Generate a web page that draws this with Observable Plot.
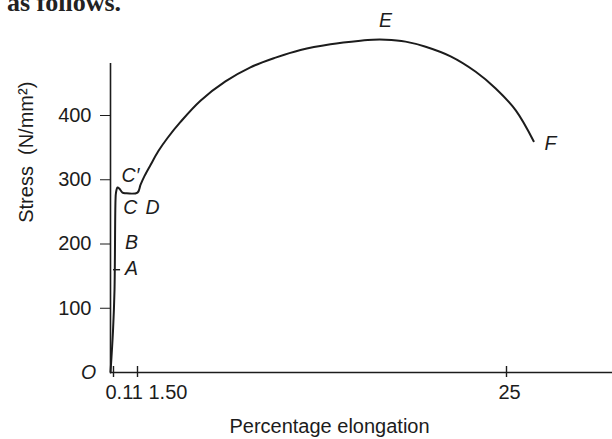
<!DOCTYPE html>
<html>
<head>
<meta charset="utf-8">
<script src="https://cdn.jsdelivr.net/npm/d3@7"></script>
<script src="https://cdn.jsdelivr.net/npm/@observablehq/plot@0.6"></script>
<style>
  html, body { margin: 0; padding: 0; background: #fff; }
  #wrap { position: relative; width: 612px; height: 439px; overflow: hidden; }
  #pretext { position: absolute; left: 7px; top: -10px; font-family: "Liberation Serif", serif; font-weight: bold; font-size: 26px; line-height: 26px; color: #222; white-space: nowrap; }
  #chart { position: absolute; left: 0; top: 0; }
</style>
</head>
<body>
<div id="wrap">
  <div id="chart"></div>
  <div id="pretext">as follows.</div>
</div>
<script>
// Stress–strain curve (percentage elongation vs stress, N/mm²)
const elongation = [0, 0.092, 0.168, 0.226, 0.255, 0.342, 0.457, 0.631, 0.805, 1.5, 1.69, 1.95, 2.33, 2.84, 3.41, 4.24, 5.51, 7.10, 8.69, 10.29, 11.88, 13.79, 15.7, 16.5, 17.3, 18.57, 19.85, 21.44, 23.04, 24.31, 25.59, 26.73];
const stress     = [0, 65, 128, 268, 280, 288, 286, 280, 279, 280, 292, 306, 323, 345, 365, 390, 423, 453, 475, 490, 502, 511, 516.5, 518, 518, 515, 507, 492, 468, 442, 408, 360];

const xTickValues = [0.11, 1.5, 25];
const xTickLabels = ["0.11", "1.50", "25"];
const yTickValues = [100, 200, 300, 400];

const pointNames = ["O", "A", "B", "C", "D", "C\u2032", "E", "F"];
const pointX     = [0, 1.15, 1.15, 1.09, 2.46, 1.09, 17.3, 27.8];
const pointY     = [0, 162, 202, 257, 257, 307, 548, 356];

const markA = { y: 160, x1: 0.11, x2: 0.52 };
const xMax = 31.75;   // right end of the elongation axis
const yAxisTop = 481; // top end of the stress axis
const yTitleAt = 233; // stress value at the middle of the y title

const curve = elongation.map((x, i) => ({ x, y: stress[i] }));
const points = pointNames.map((name, i) => ({ name, x: pointX[i], y: pointY[i] }));
const xTicks = xTickValues.map((x, i) => ({ x, label: xTickLabels[i] }));

const labelStyle = { "0.11": { anchor: "start", dx: -8 }, "1.50": { anchor: "start", dx: 11 }, "25": { anchor: "middle", dx: 3 } };
const ink = "#1c1c1c";

const chart = Plot.plot({
  width: 612,
  height: 439,
  marginLeft: 110,
  marginRight: 0,
  marginTop: 0,
  marginBottom: 67,
  style: { fontFamily: "'Liberation Sans', Arial, sans-serif", color: ink, background: "transparent", overflow: "visible" },
  x: { type: "linear", axis: null, domain: [0, 0.11, 1.5, 25, xMax], range: [110, 113, 137, 506, 612] },
  y: { domain: [0, 400], range: [372, 115] },
  marks: [
    // axis lines
    Plot.ruleX([0], { y1: 0, y2: yAxisTop, stroke: ink, strokeWidth: 1.6 }),
    Plot.ruleY([0], { x1: 0, x2: xMax, stroke: ink, strokeWidth: 1.6 }),
    // y ticks + labels
    Plot.axisY({ ticks: yTickValues, tickSize: 10, tickPadding: 9, fontSize: 20, label: null, stroke: ink, color: ink }),
    // x ticks crossing the axis
    Plot.ruleX(xTicks, { x: "x", y1: 0, y2: 0, insetTop: -6, insetBottom: -5, stroke: ink, strokeWidth: 1.4 }),
    ...xTickLabels.map(lbl => Plot.text(xTicks.filter(d => d.label === lbl), {
      x: "x", y: 0, text: "label", fontSize: 20, fill: ink,
      textAnchor: labelStyle[lbl].anchor, dx: labelStyle[lbl].dx, dy: 20
    })),
    // curve
    Plot.line(curve, { x: "x", y: "y", curve: "catmull-rom", stroke: ink, strokeWidth: 2 }),
    // small mark at A
    Plot.ruleY([markA], { y: "y", x1: "x1", x2: "x2", stroke: ink, strokeWidth: 1.4 }),
    // point labels
    Plot.text(points.filter(d => d.name !== "O"), { x: "x", y: "y", text: "name", fontSize: 19.5, fontStyle: "italic", fill: ink }),
    Plot.text(points.filter(d => d.name === "O"), { x: "x", y: "y", text: "name", fontSize: 19.5, fontStyle: "italic", fill: ink, dx: -22 }),
    // axis titles
    Plot.text(["Percentage elongation"], { frameAnchor: "bottom", dx: -32, dy: 60, fontSize: 20, fill: ink }),
    Plot.text([{ label: "Stress  (N/mm\u00b2)", y: yTitleAt }], { y: "y", text: "label", frameAnchor: "left", dx: -84, rotate: -90, fontSize: 20, fill: ink })
  ]
});
document.getElementById("chart").appendChild(chart);
</script>
</body>
</html>
